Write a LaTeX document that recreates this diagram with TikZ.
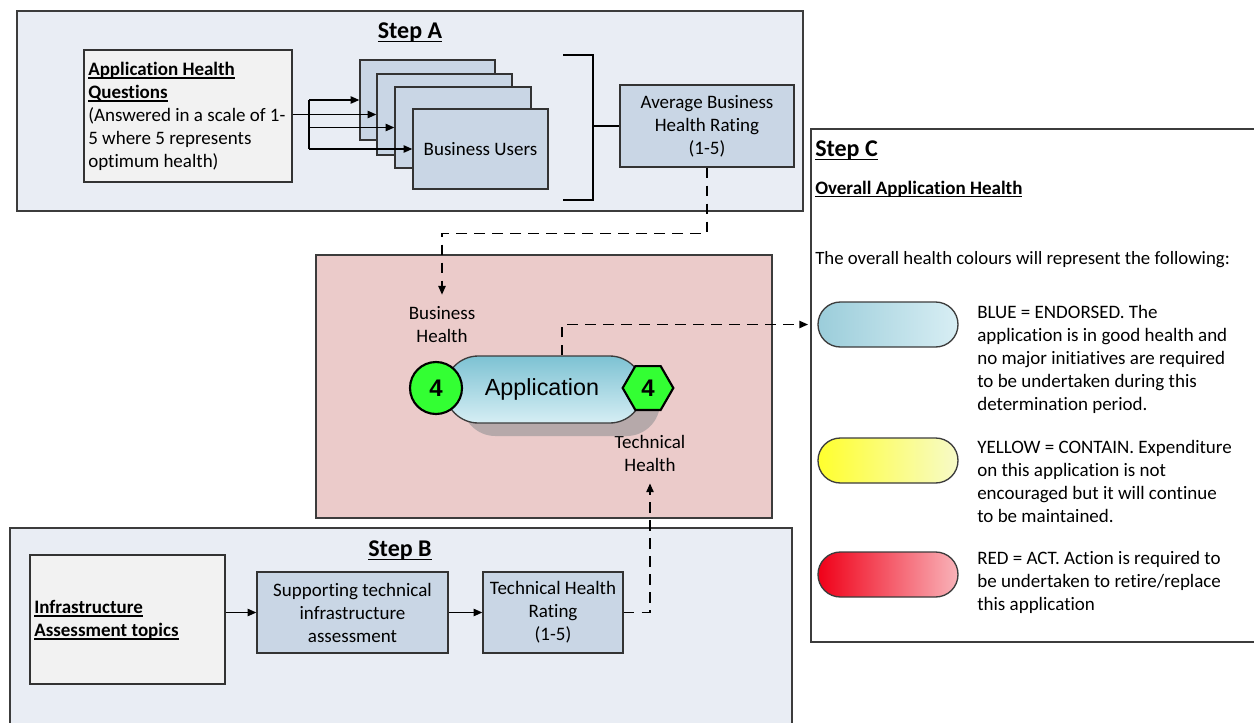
\documentclass[tikz,border=0pt]{standalone}
\usepackage{fontspec}
\setmainfont{Carlito}[Ligatures=NoCommon]
\newfontfamily\arialfont{Liberation Sans}
\usetikzlibrary{arrows.meta,fit,shapes.geometric,calc}

\definecolor{panelfill}{HTML}{E9EDF4}
\definecolor{edgegray}{HTML}{3C3C3C}
\definecolor{paperfill}{HTML}{F2F2F2}
\definecolor{steelfill}{HTML}{C9D6E5}
\definecolor{rosefill}{HTML}{EBCBCA}
\definecolor{shadowfill}{HTML}{B6A9AA}
\definecolor{healthgreen}{HTML}{33FF33}
\definecolor{apptop}{HTML}{7DC2D3}
\definecolor{appbottom}{HTML}{D6EEF4}
\definecolor{blueleft}{HTML}{9BCDDA}
\definecolor{blueright}{HTML}{D8EEF4}
\definecolor{yellowleft}{HTML}{FFFF2E}
\definecolor{yellowright}{HTML}{F7FAC8}
\definecolor{redleft}{HTML}{F00018}
\definecolor{redright}{HTML}{F9B3B9}

\newcommand\diagtext{\fontsize{14.25}{17.25}\selectfont}
\newcommand\uln[1]{\setbox0\hbox{#1}\rlap{\rule[-0.18em]{\wd0}{0.07em}}\box0}

\begin{document}
\begin{tikzpicture}[x=0.75pt,y=-0.75pt,
  panel/.style={draw=edgegray,fill=panelfill,line width=0.9pt,inner sep=0pt},
  plainbox/.style={draw=black!80,fill=paperfill,line width=1pt,inner sep=0pt},
  stepbox/.style={draw=black!80,fill=steelfill,line width=1pt,inner sep=0pt},
  txt/.style={inner sep=0pt,font=\diagtext},
  steptitle/.style={inner sep=0pt,font=\fontsize{18}{20}\selectfont\bfseries},
  link/.style={line width=1pt},
  arr/.style={line width=1pt,-{Triangle[length=6.5pt,width=5.5pt]}},
  darr/.style={line width=1pt,dash pattern=on 8pt off 5.5pt,-{Triangle[length=6.5pt,width=5.5pt]}},
  pill/.style={draw=edgegray,line width=1pt,rounded corners=16.8pt,inner sep=0pt},
  badge/.style={draw=black,line width=1.6pt,fill=healthgreen,inner sep=0pt,
    font=\arialfont\bfseries\fontsize{18}{20}\selectfont},
]
\clip (0,0) rectangle (1254,722);
\fill[white] (0,0) rectangle (1254,722);

% ---------- Step A: business health ----------
\node[panel,fit={(17,11)(803,211)}] (stepA) {};
\node[steptitle,anchor=base] (titleA) at (410,38) {\uln{Step A}};

\node[plainbox,fit={(84,50)(292,182)}] (quest) {};
\node[txt,align=left,anchor=west] (questtext) at (88,116)
  {{\bfseries\uln{Application Health}}\\{\bfseries\uln{Questions}}\\(Answered in a scale of 1-\\5 where 5 represents\\optimum health)};

\node[stepbox,fit={(360,60)(495,140)}] (user1) {};
\node[stepbox,fit={(377,74)(512,155)}] (user2) {};
\node[stepbox,fit={(395,87)(531,168)}] (user3) {};
\node[stepbox,fit={(413,109)(548,189)}] (user4) {};
\node[txt] (user4text) at (user4.center) {Business Users};

\coordinate (fork) at (309,114);
\draw[arr] (quest.east |- user2.west) -- (user2.west);
\draw[link] (fork |- user1.west) -- (fork |- user4.west);
\draw[arr] (fork |- user1.west) -- (user1.west);
\draw[arr] (fork |- user3.west) -- (user3.west);
\draw[arr] (fork |- user4.west) -- (user4.west);

\node[stepbox,fit={(620,85)(794,167)}] (avg) {};
\node[txt,align=center] (avgtext) at (avg.center) {Average Business\\Health Rating\\(1-5)};
\coordinate (brTop) at (563,55);
\coordinate (brBot) at (563,200);
\coordinate (brMid) at (593,126);
\draw[link] (brTop) -- (brTop -| brMid) -- (brBot -| brMid) -- (brBot);
\draw[link] (brMid) -- (avg.west);

% ---------- Application health ----------
\node[draw=edgegray,fill=rosefill,line width=0.9pt,inner sep=0pt,fit={(316,255)(772,518)}] (core) {};
\node[txt,align=center] (bizh) at (442,325) {Business\\Health};
\node[txt,align=center] (techh) at (650,453) {Technical\\Health};

\node[pill,draw=none,fill=shadowfill,rounded corners=25pt,fit={(462,369)(660,436)}] (appshadow) {};
\node[pill,rounded corners=25pt,top color=apptop,bottom color=appbottom,
  fit={(445,356)(643,423)}] (app) {};
\node[inner sep=0pt,font=\arialfont\fontsize{17.5}{20}\selectfont] (apptext) at ([xshift=-1.5pt]app.center) {Application};
\node[badge,circle,minimum size=39pt] (bizscore) at (436,388) {4};
\node[badge,regular polygon,regular polygon sides=6,minimum size=38pt] (techscore) at (648,388) {4};

\draw[darr,shorten >=9pt] (avg.south) -- ++(0,66) -| (bizh.north);

% ---------- Step B: technical health ----------
\node[panel,fit={(10,528)(792,740)}] (stepB) {};
\node[steptitle,anchor=base] (titleB) at (400,556) {\uln{Step B}};
\node[plainbox,fit={(30,555)(225,684)}] (infra) {};
\node[txt,align=left,anchor=west] (infratext) at (34,620)
  {{\bfseries\uln{Infrastructure}}\\{\bfseries\uln{Assessment topics}}};
\node[stepbox,fit={(257,572)(448,653)}] (supp) {};
\node[txt,align=center] (supptext) at (supp.center) {Supporting technical\\infrastructure\\assessment};
\node[stepbox,fit={(483,572)(623,653)}] (thr) {};
\node[txt,align=center] (thrtext) at (thr.center) {Technical Health\\Rating\\(1-5)};
\draw[arr] (infra.east |- supp.west) -- (supp.west);
\draw[arr] (supp.east) -- (thr.west);
\draw[darr,shorten >=9pt] (thr.east) -| (techh.south);

% ---------- Step C: legend ----------
\node[draw=edgegray,fill=white,line width=0.9pt,inner sep=0pt,fit={(811,129)(1266,642)}] (stepC) {};
\node[steptitle,anchor=base west] (titleC) at (815,156) {\uln{Step C}};
\node[inner sep=0pt,font=\fontsize{14.25}{16}\selectfont\bfseries,anchor=base west] (overall) at (815,194)
  {\uln{Overall Application Health}};
\node[inner sep=0pt,font=\fontsize{14.1}{16}\selectfont,anchor=base west] (intro) at (815,264)
  {The overall health colours will represent the following:};

\node[pill,left color=blueleft,right color=blueright,fit={(818,302)(958,347)}] (blueband) {};
\node[pill,left color=yellowleft,right color=yellowright,fit={(818,438)(958,483)}] (yellowband) {};
\node[pill,left color=redleft,right color=redright,fit={(818,552)(958,597)}] (redband) {};

\node[txt,align=left,anchor=north west] (bluetext) at (977,305)
  {BLUE = ENDORSED. The\\application is in good health and\\no major initiatives are required\\to be undertaken during this\\determination period.};
\node[txt,align=left,anchor=north west] (yellowtext) at (977,440)
  {YELLOW = CONTAIN. Expenditure\\on this application is not\\encouraged but it will continue\\to be maintained.};
\node[txt,align=left,anchor=north west] (redtext) at (977,551)
  {RED = ACT. Action is required to\\be undertaken to retire/replace\\this application};

\draw[darr,shorten >=7pt] ([xshift=13.5pt]app.north) |- (blueband.west);
\end{tikzpicture}
\end{document}
